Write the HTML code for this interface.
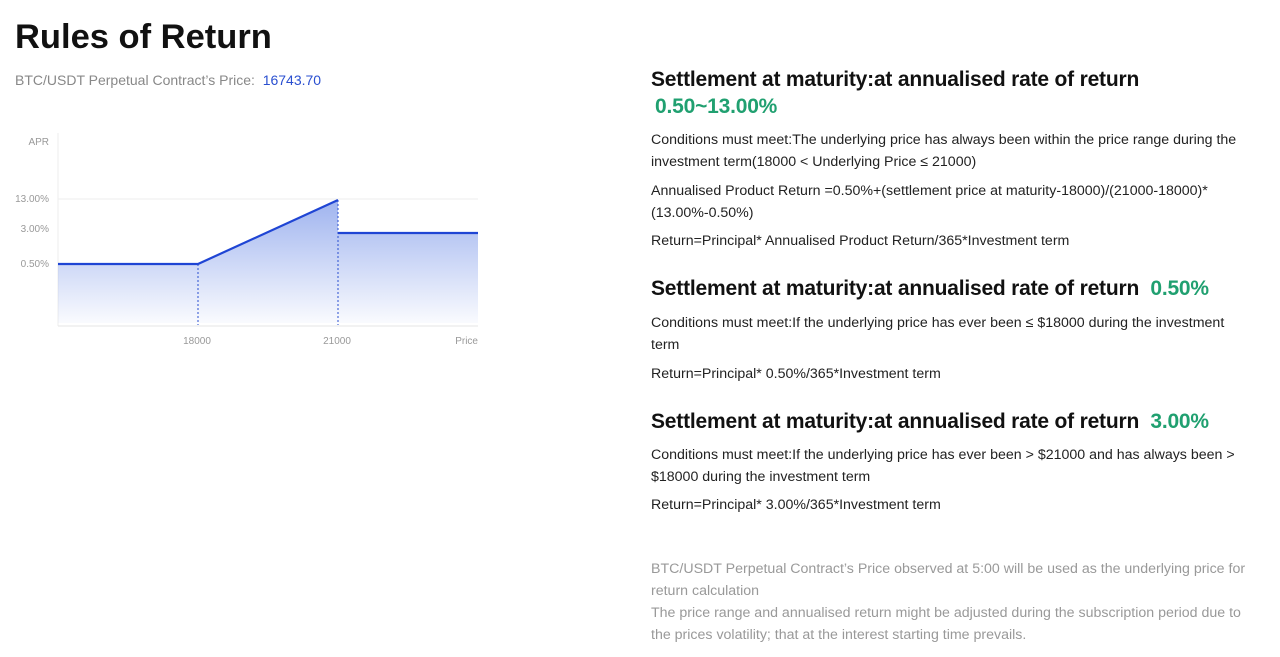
<!DOCTYPE html>
<html><head><meta charset="utf-8"><style>
body{margin:0;width:1280px;height:657px;background:#fff;font-family:"Liberation Sans",sans-serif;position:relative;overflow:hidden}
.a{position:absolute;white-space:nowrap}
.t{font-size:14.2px;color:#222}
.h{font-size:21px;font-weight:bold;color:#111;letter-spacing:-0.2px}
.g{color:#20a070}
.n{font-size:14.2px;color:#999}
</style></head><body>
<div class="a" style="left:15px;top:18px;font-size:34.5px;font-weight:bold;color:#111">Rules of Return</div>
<div class="a" style="left:15px;top:72px;font-size:14px;color:#888">BTC/USDT Perpetual Contract’s Price: &nbsp;<span style="color:#2a4fd0">16743.70</span></div>
<svg class="a" style="left:0;top:120px" width="490" height="240">
<defs><linearGradient id="f" x1="0" y1="0" x2="0" y2="1"><stop offset="0" stop-color="#8ea6ec" stop-opacity=".85"/><stop offset="1" stop-color="#8ea6ec" stop-opacity=".05"/></linearGradient></defs>
<line x1="58" y1="13" x2="58" y2="206" stroke="#eee"/>
<line x1="58" y1="79" x2="478" y2="79" stroke="#eee"/>
<line x1="58" y1="206" x2="478" y2="206" stroke="#e6e6e6"/>
<path d="M58 144 L198 144 L338 80 L338 113 L478 113 L478 203 L58 203Z" fill="url(#f)"/>
<line x1="198" y1="144" x2="198" y2="205" stroke="#2a4fd0" stroke-dasharray="2 2"/>
<line x1="338" y1="80" x2="338" y2="205" stroke="#2a4fd0" stroke-dasharray="2 2"/>
<path d="M58 144 L198 144 L338 80 M338 113 L478 113" fill="none" stroke="#1f45d4" stroke-width="2.2"/>
<g font-size="10" fill="#999" font-family="Liberation Sans">
<text x="49" y="25" text-anchor="end">APR</text>
<text x="49" y="82" text-anchor="end">13.00%</text>
<text x="49" y="112" text-anchor="end">3.00%</text>
<text x="49" y="147" text-anchor="end">0.50%</text>
<text x="197" y="224" text-anchor="middle">18000</text>
<text x="337" y="224" text-anchor="middle">21000</text>
<text x="478" y="224" text-anchor="end">Price</text>
</g></svg>
<div class="a h" style="left:651px;top:68px">Settlement at maturity:at annualised rate of return</div>
<div class="a h g" style="left:655px;top:95px">0.50~13.00%</div>
<div class="a t" style="left:651px;top:132px">Conditions must meet:The underlying price has always been within the price range during the</div>
<div class="a t" style="left:651px;top:154px">investment term(18000 &lt; Underlying Price ≤ 21000)</div>
<div class="a t" style="left:651px;top:183px">Annualised Product Return =0.50%+(settlement price at maturity-18000)/(21000-18000)*</div>
<div class="a t" style="left:651px;top:205px">(13.00%-0.50%)</div>
<div class="a t" style="left:651px;top:233px">Return=Principal* Annualised Product Return/365*Investment term</div>
<div class="a h" style="left:651px;top:277px">Settlement at maturity:at annualised rate of return&nbsp; <span class="g">0.50%</span></div>
<div class="a t" style="left:651px;top:315px">Conditions must meet:If the underlying price has ever been ≤ $18000 during the investment</div>
<div class="a t" style="left:651px;top:337px">term</div>
<div class="a t" style="left:651px;top:366px">Return=Principal* 0.50%/365*Investment term</div>
<div class="a h" style="left:651px;top:410px">Settlement at maturity:at annualised rate of return&nbsp; <span class="g">3.00%</span></div>
<div class="a t" style="left:651px;top:447px">Conditions must meet:If the underlying price has ever been &gt; $21000 and has always been &gt;</div>
<div class="a t" style="left:651px;top:469px">$18000 during the investment term</div>
<div class="a t" style="left:651px;top:497px">Return=Principal* 3.00%/365*Investment term</div>
<div class="a n" style="left:651px;top:561px">BTC/USDT Perpetual Contract’s Price observed at 5:00 will be used as the underlying price for</div>
<div class="a n" style="left:651px;top:583px">return calculation</div>
<div class="a n" style="left:651px;top:605px">The price range and annualised return might be adjusted during the subscription period due to</div>
<div class="a n" style="left:651px;top:627px">the prices volatility; that at the interest starting time prevails.</div>
</body></html>
